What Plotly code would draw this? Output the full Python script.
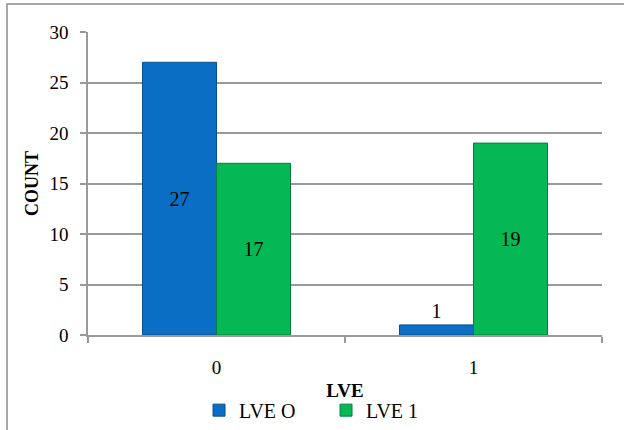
import plotly.graph_objects as go

categories = ["0", "1"]
lve0_counts = [27, 1]
lve1_counts = [17, 19]
series_names = ["LVE O", "LVE 1"]
y_ticks = [0, 5, 10, 15, 20, 25, 30]

FONT = "Times New Roman, Liberation Serif, serif"

fig = go.Figure()
for name, vals, fill, edge in [
    (series_names[0], lve0_counts, "#0A6FC4", "#0B4F8A"),
    (series_names[1], lve1_counts, "#06B755", "#067E3C"),
]:
    fig.add_trace(go.Bar(
        x=categories, y=vals, name=name,
        marker=dict(color=fill, line=dict(color=edge, width=1)),
        text=[str(v) for v in vals],
        textposition="auto",
        insidetextanchor="middle",
        insidetextfont=dict(color="black", size=20, family=FONT),
        outsidetextfont=dict(color="black", size=20, family=FONT),
        cliponaxis=False,
    ))

fig.update_layout(
    width=624, height=430,
    margin=dict(l=88, r=22, t=32, b=95, autoexpand=False),
    paper_bgcolor="white", plot_bgcolor="white",
    barmode="group", bargap=0.424, bargroupgap=0,
    font=dict(family=FONT, size=19, color="black"),
    showlegend=True,
    legend=dict(orientation="h", x=0.216, xanchor="left", y=-0.248, yanchor="middle",
                font=dict(size=20, family=FONT), entrywidth=82, entrywidthmode="pixels",
                itemwidth=30, tracegroupgap=0, bgcolor="rgba(0,0,0,0)"),
    xaxis=dict(
        type="category", showgrid=False, showline=True, linecolor="#999999", linewidth=1.5,
        ticks="outside", ticklen=6, tickcolor="#999999", tickwidth=1.5, tickson="boundaries",
        tickfont=dict(size=19, family=FONT), ticklabelstandoff=14,
        title=dict(text="<b>LVE</b>", font=dict(size=19, family=FONT), standoff=7),
    ),
    yaxis=dict(
        range=[0, 30], tickvals=y_ticks, showgrid=True, gridcolor="#999999", gridwidth=1.5,
        showline=True, linecolor="#999999", linewidth=1.5, zeroline=False,
        ticks="outside", ticklen=6, tickcolor="#999999", tickwidth=1.5,
        tickfont=dict(size=19, family=FONT), ticklabelstandoff=8,
        title=dict(text="<b>COUNT</b>", font=dict(size=18, family=FONT), standoff=6),
    ),
    shapes=[dict(type="rect", xref="paper", yref="paper",
                 x0=-0.1576, x1=1.2, y0=-0.5, y1=1.0924,
                 line=dict(color="#8c8c8c", width=1.5), fillcolor="rgba(0,0,0,0)", layer="below")],
)

fig.write_html("out.html")
